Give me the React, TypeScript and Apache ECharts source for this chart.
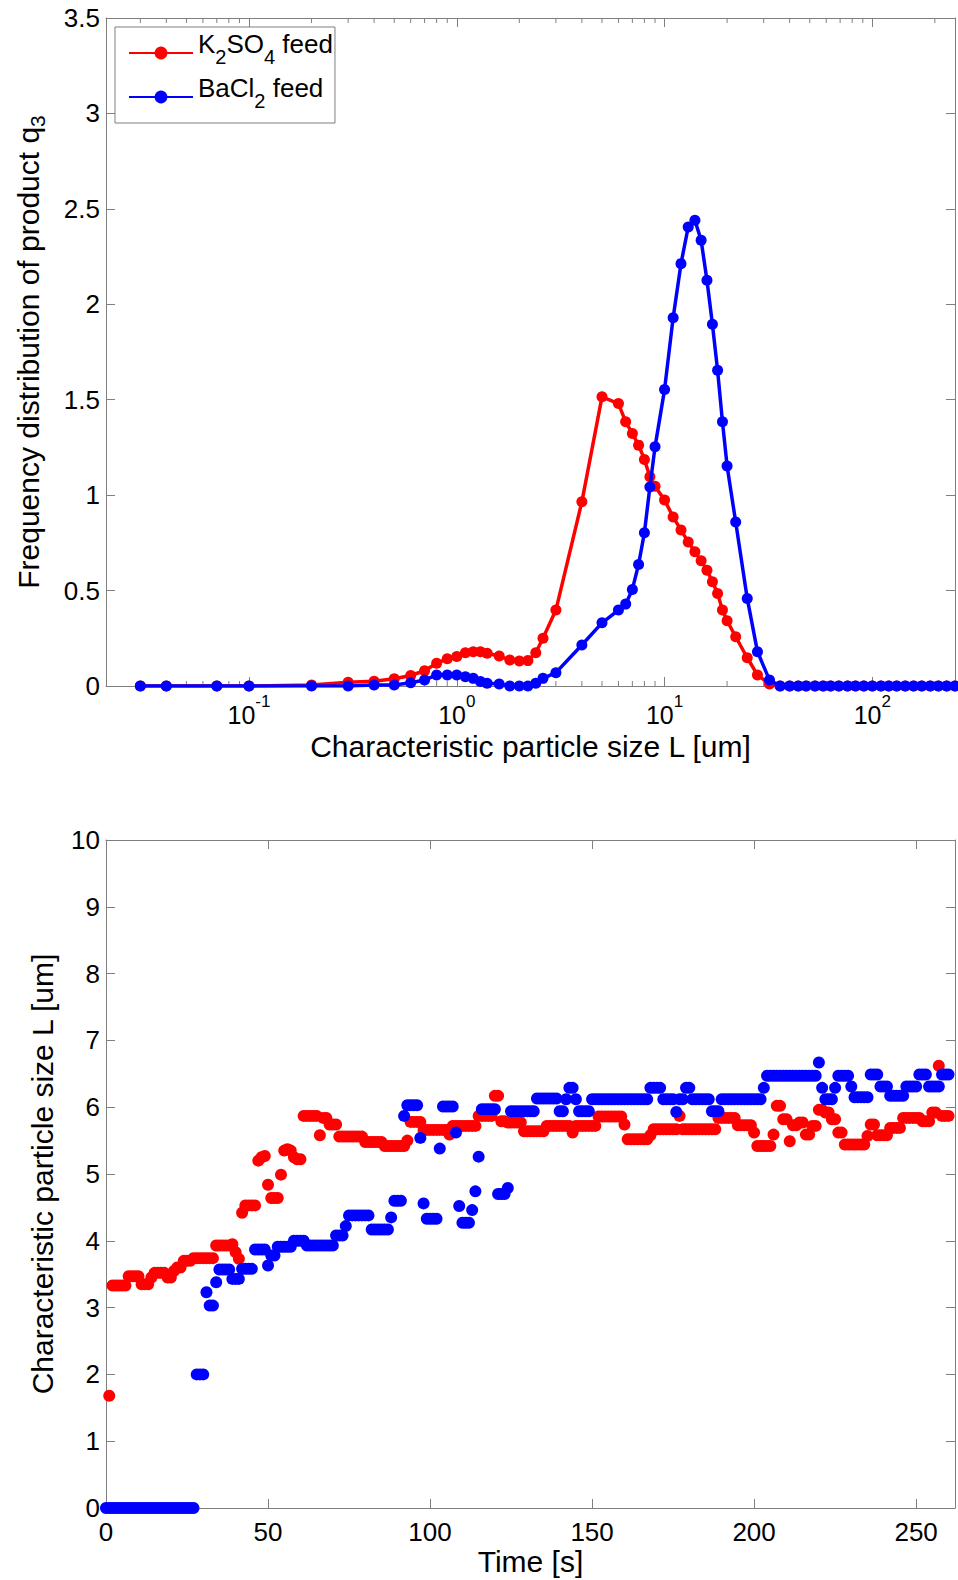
import React, { useEffect, useRef } from 'react';
import * as echarts from 'echarts';

// ---------- Top chart: frequency distribution q3 vs particle size (log x) ----------
const sizeGrid = [
  0.03, 0.04, 0.07, 0.1, 0.2, 0.3, 0.4, 0.5, 0.6, 0.7,
  0.8, 0.9, 1.0, 1.1, 1.2, 1.3, 1.4, 1.6, 1.8, 2.0,
  2.2, 2.4, 2.6, 3.0, 4.0, 5.0, 6.0, 6.5, 7.0, 7.5,
  8.0, 8.5, 9.0, 10, 11, 12, 13, 14, 15, 16,
  17, 18, 19, 20, 22, 25, 28, 32, 36, 40,
  44, 48, 53, 58, 63, 69, 76, 83, 91, 100,
  110, 120, 131, 144, 158, 173, 190, 208, 228, 250,
];

const k2so4Q3 = [
  0, 0, 0, 0, 0.005, 0.02, 0.025, 0.038, 0.055, 0.08,
  0.119, 0.143, 0.155, 0.174, 0.18, 0.18, 0.172, 0.157, 0.136, 0.131,
  0.133, 0.174, 0.25, 0.398, 0.965, 1.515, 1.48, 1.384, 1.323, 1.262,
  1.187, 1.096, 1.047, 0.974, 0.886, 0.817, 0.755, 0.703, 0.656, 0.607,
  0.546, 0.485, 0.398, 0.342, 0.258, 0.148, 0.058, 0.01, 0, 0,
  0, 0, 0, 0, 0, 0, 0, 0, 0, 0,
  0, 0, 0, 0, 0, 0, 0, 0, 0, 0,
];

const bacl2Q3 = [
  0, 0, 0, 0, 0, 0, 0.005, 0.005, 0.017, 0.031,
  0.058, 0.058, 0.058, 0.049, 0.04, 0.023, 0.014, 0.01, 0, 0,
  0, 0.014, 0.04, 0.07, 0.215, 0.331, 0.398, 0.429, 0.506, 0.637,
  0.803, 1.043, 1.253, 1.553, 1.93, 2.213, 2.405, 2.44, 2.335, 2.126,
  1.895, 1.654, 1.384, 1.153, 0.859, 0.459, 0.18, 0.031, 0, 0,
  0, 0, 0, 0, 0, 0, 0, 0, 0, 0,
  0, 0, 0, 0, 0, 0, 0, 0, 0, 0,
];

const logMinorTicks = [
  0.03, 0.04, 0.05, 0.06, 0.07, 0.08, 0.09,
  0.2, 0.3, 0.4, 0.5, 0.6, 0.7, 0.8, 0.9,
  2, 3, 4, 5, 6, 7, 8, 9,
  20, 30, 40, 50, 60, 70, 80, 90,
  200,
];

// ---------- Bottom chart: characteristic particle size vs time ----------
const k2so4StartTime = 1;
const k2so4SizeL = [
  1.68, 3.33, 3.33, 3.33, 3.33, 3.33, 3.47, 3.47, 3.47, 3.47,
  3.35, 3.35, 3.35, 3.45, 3.52, 3.52, 3.52, 3.52, 3.45, 3.45,
  3.55, 3.6, 3.6, 3.7, 3.7, 3.7, 3.74, 3.74, 3.74, 3.74,
  3.74, 3.74, 3.74, 3.93, 3.93, 3.93, 3.93, 3.93, 3.95, 3.83,
  3.73, 4.42, 4.53, 4.53, 4.53, 4.53, 5.2, 5.25, 5.27, 4.84,
  4.64, 4.64, 4.64, 4.99, 5.35, 5.37, 5.35, 5.25, 5.22, 5.22,
  5.87, 5.87, 5.87, 5.87, 5.87, 5.58, 5.84, 5.84, 5.74, 5.74,
  5.74, 5.56, 5.56, 5.56, 5.56, 5.56, 5.56, 5.56, 5.56, 5.48,
  5.48, 5.48, 5.48, 5.48, 5.48, 5.42, 5.42, 5.42, 5.42, 5.42,
  5.42, 5.42, 5.5, 5.78, 5.78, 5.78, 5.78, 5.66, 5.66, 5.66,
  5.66, 5.66, 5.66, 5.66, 5.66, 5.59, 5.72, 5.72, 5.72, 5.72,
  5.72, 5.72, 5.72, 5.72, 5.87, 5.87, 5.87, 5.87, 5.87, 6.17,
  6.17, 5.79, 5.79, 5.77, 5.77, 5.77, 5.77, 5.77, 5.64, 5.64,
  5.64, 5.64, 5.64, 5.64, 5.64, 5.72, 5.72, 5.72, 5.72, 5.72,
  5.72, 5.72, 5.72, 5.62, 5.72, 5.72, 5.72, 5.72, 5.72, 5.72,
  5.72, 5.86, 5.86, 5.86, 5.86, 5.86, 5.86, 5.86, 5.86, 5.74,
  5.52, 5.52, 5.52, 5.52, 5.52, 5.52, 5.52, 5.58, 5.67, 5.67,
  5.67, 5.67, 5.67, 5.67, 5.67, 5.67, 5.87, 5.67, 5.67, 5.67,
  5.67, 5.67, 5.67, 5.67, 5.67, 5.67, 5.67, 5.67, 5.84, 5.84,
  5.84, 5.84, 5.84, 5.84, 5.73, 5.73, 5.73, 5.73, 5.73, 5.62,
  5.42, 5.42, 5.42, 5.42, 5.42, 5.59, 6.02, 6.02, 5.82, 5.82,
  5.49, 5.73, 5.73, 5.77, 5.77, 5.59, 5.59, 5.72, 5.72, 5.96,
  5.96, 5.92, 5.92, 5.82, 5.82, 5.62, 5.62, 5.44, 5.44, 5.44,
  5.44, 5.44, 5.44, 5.44, 5.57, 5.74, 5.74, 5.58, 5.58, 5.58,
  5.58, 5.69, 5.69, 5.69, 5.69, 5.84, 5.84, 5.84, 5.84, 5.84,
  5.84, 5.79, 5.79, 5.79, 5.92, 5.92, 6.62, 5.87, 5.87, 5.87,
];

const bacl2StartTime = 0;
const bacl2SizeL = [
  0, 0, 0, 0, 0, 0, 0, 0, 0, 0,
  0, 0, 0, 0, 0, 0, 0, 0, 0, 0,
  0, 0, 0, 0, 0, 0, 0, 0, 2.0, 2.0,
  2.0, 3.23, 3.03, 3.03, 3.38, 3.57, 3.57, 3.57, 3.57, 3.43,
  3.43, 3.43, 3.58, 3.58, 3.58, 3.58, 3.87, 3.87, 3.87, 3.87,
  3.63, 3.78, 3.78, 3.91, 3.91, 3.91, 3.91, 3.91, 4.0, 4.0,
  4.0, 4.0, 3.93, 3.93, 3.93, 3.93, 3.93, 3.93, 3.93, 3.93,
  3.93, 4.08, 4.08, 4.08, 4.22, 4.38, 4.38, 4.38, 4.38, 4.38,
  4.38, 4.38, 4.17, 4.17, 4.17, 4.17, 4.17, 4.17, 4.35, 4.6,
  4.6, 4.6, 5.87, 6.03, 6.03, 6.03, 6.03, 5.54, 4.56, 4.33,
  4.33, 4.33, 4.33, 5.38, 6.01, 6.01, 6.01, 6.01, 5.62, 4.52,
  4.27, 4.27, 4.27, 4.46, 4.74, 5.26, 5.97, 5.97, 5.97, 5.97,
  5.97, 4.7, 4.7, 4.7, 4.79, 5.94, 5.94, 5.94, 5.94, 5.94,
  5.94, 5.94, 5.94, 6.13, 6.13, 6.13, 6.13, 6.13, 6.13, 6.13,
  5.94, 5.94, 6.12, 6.29, 6.29, 6.12, 5.94, 5.94, 5.94, 5.94,
  6.12, 6.12, 6.12, 6.12, 6.12, 6.12, 6.12, 6.12, 6.12, 6.12,
  6.12, 6.12, 6.12, 6.12, 6.12, 6.12, 6.12, 6.12, 6.29, 6.29,
  6.29, 6.29, 6.12, 6.12, 6.12, 6.12, 5.93, 6.12, 6.12, 6.29,
  6.29, 6.12, 6.12, 6.12, 6.12, 6.12, 6.12, 5.94, 5.94, 5.94,
  6.12, 6.12, 6.12, 6.12, 6.12, 6.12, 6.12, 6.12, 6.12, 6.12,
  6.12, 6.12, 6.12, 6.29, 6.47, 6.47, 6.47, 6.47, 6.47, 6.47,
  6.47, 6.47, 6.47, 6.47, 6.47, 6.47, 6.47, 6.47, 6.47, 6.47,
  6.67, 6.29, 6.12, 6.12, 6.12, 6.29, 6.47, 6.47, 6.47, 6.47,
  6.31, 6.15, 6.15, 6.15, 6.15, 6.15, 6.49, 6.49, 6.49, 6.31,
  6.31, 6.31, 6.17, 6.17, 6.17, 6.17, 6.17, 6.31, 6.31, 6.31,
  6.31, 6.49, 6.49, 6.49, 6.31, 6.31, 6.31, 6.31, 6.49, 6.49,
  6.49,
];

const TOP_X_MIN = 0.0205;
const TOP_X_MAX = 250;
const TOP_Y_MIN = 0;
const TOP_Y_MAX = 3.5;
const BOT_X_MAX = 262;

const FONT = "'Liberation Sans', Arial, Helvetica, sans-serif";
const GRAY = '#7f7f7f';
const RED = '#ff0000';
const BLUE = '#0000ff';

export default function App() {
  const ref = useRef<HTMLDivElement>(null);

  useEffect(() => {
    document.body.style.margin = '0';
    const chart = echarts.init(ref.current as HTMLDivElement, null, { renderer: 'svg' });

    const lineStyle = { color: GRAY, width: 1 };
    const axisLine = { show: true, onZero: false, lineStyle };
    const axisTick = { show: true, inside: true, length: 9, lineStyle };
    const tickText = { color: '#000', fontFamily: FONT, fontSize: 26 };
    const titleText = { color: '#000', fontFamily: FONT, fontSize: 30 };

    const logLabel = (v: number) => {
      const l = Math.log10(v);
      const e = Math.round(l);
      if (Math.abs(l - e) > 1e-6) return '';
      return '{b|10}{sup|' + (e < 0 ? '-' + -e : String(e)) + '}';
    };

    const option: any = {
      animation: false,
      backgroundColor: '#ffffff',
      textStyle: { fontFamily: FONT },
      grid: [
        { left: 106, top: 18, width: 850, height: 668 },
        { left: 106, top: 840, width: 850, height: 668 },
      ],
      legend: {
        data: ['K2SO4 feed', 'BaCl2 feed'],
        orient: 'vertical',
        left: 115,
        top: 27,
        padding: [4, 2, 4, 13],
        itemWidth: 64,
        itemHeight: 16,
        itemGap: 0,
        borderColor: GRAY,
        borderWidth: 1,
        backgroundColor: '#ffffff',
        formatter: (n: string) =>
          n === 'K2SO4 feed' ? '{b|K}{sub|2}{b|SO}{sub|4}{b| feed}' : '{b|BaCl}{sub|2}{b| feed}',
        textStyle: {
          color: '#000',
          fontFamily: FONT,
          fontSize: 26,
          lineHeight: 44,
          rich: {
            b: { fontSize: 26, fontFamily: FONT, color: '#000', verticalAlign: 'top' },
            sub: { fontSize: 20, fontFamily: FONT, color: '#000', verticalAlign: 'top', lineHeight: 20, padding: [16, 0, 0, 0] },
          },
        },
      },
      xAxis: [
        {
          gridIndex: 0, type: 'log', logBase: 10, min: TOP_X_MIN, max: TOP_X_MAX, position: 'bottom',
          axisLine, axisTick, splitLine: { show: false },
          axisLabel: {
            margin: 7,
            formatter: logLabel,
            ...tickText,
            rich: {
              b: { fontSize: 25, fontFamily: FONT, color: '#000', lineHeight: 34, verticalAlign: 'bottom' },
              sup: { fontSize: 17, fontFamily: FONT, color: '#000', lineHeight: 17, verticalAlign: 'top' },
            },
          },
          name: 'Characteristic particle size L [um]', nameLocation: 'middle', nameGap: 45,
          nameTextStyle: titleText,
        },
        {
          gridIndex: 0, type: 'log', logBase: 10, min: TOP_X_MIN, max: TOP_X_MAX, position: 'top',
          axisLine, axisTick, splitLine: { show: false }, axisLabel: { show: false },
        },
        {
          gridIndex: 1, type: 'value', min: 0, max: BOT_X_MAX, interval: 50, position: 'bottom',
          axisLine, axisTick, splitLine: { show: false },
          axisLabel: { margin: 11, ...tickText, formatter: (v: number) => (v % 50 === 0 ? String(v) : '') },
          name: 'Time [s]', nameLocation: 'middle', nameGap: 38, nameTextStyle: titleText,
        },
        {
          gridIndex: 1, type: 'value', min: 0, max: BOT_X_MAX, interval: 50, position: 'top',
          axisLine, axisTick, splitLine: { show: false }, axisLabel: { show: false },
        },
      ],
      yAxis: [
        {
          gridIndex: 0, type: 'value', min: TOP_Y_MIN, max: TOP_Y_MAX, interval: 0.5, position: 'left',
          axisLine, axisTick, splitLine: { show: false },
          axisLabel: { margin: 6, ...tickText },
          name: 'Frequency distribution of product q{sub|3}', nameLocation: 'middle', nameGap: 63,
          nameTextStyle: {
            ...titleText,
            rich: {
              sub: { fontSize: 21, fontFamily: FONT, color: '#000', verticalAlign: 'top', lineHeight: 21, padding: [14, 0, 0, 0] },
            },
          },
        },
        {
          gridIndex: 0, type: 'value', min: TOP_Y_MIN, max: TOP_Y_MAX, interval: 0.5, position: 'right',
          axisLine, axisTick, splitLine: { show: false }, axisLabel: { show: false },
        },
        {
          gridIndex: 1, type: 'value', min: 0, max: 10, interval: 1, position: 'left',
          axisLine, axisTick, splitLine: { show: false },
          axisLabel: { margin: 6, ...tickText },
          name: 'Characteristic particle size L [um]', nameLocation: 'middle', nameGap: 49,
          nameTextStyle: titleText,
        },
        {
          gridIndex: 1, type: 'value', min: 0, max: 10, interval: 1, position: 'right',
          axisLine, axisTick, splitLine: { show: false }, axisLabel: { show: false },
        },
      ],
      series: [
        {
          name: 'log minor ticks',
          type: 'custom',
          xAxisIndex: 0,
          yAxisIndex: 0,
          silent: true,
          z: 1,
          data: logMinorTicks.map((v) => [v, TOP_Y_MIN]),
          encode: { x: 0, y: 1 },
          renderItem: (params: any, api: any) => {
            const v = api.value(0);
            const b = api.coord([v, TOP_Y_MIN]);
            const t = api.coord([v, TOP_Y_MAX]);
            return {
              type: 'group',
              children: [
                { type: 'line', shape: { x1: b[0], y1: b[1], x2: b[0], y2: b[1] - 5 }, style: { stroke: GRAY, lineWidth: 1 } },
                { type: 'line', shape: { x1: t[0], y1: t[1], x2: t[0], y2: t[1] + 5 }, style: { stroke: GRAY, lineWidth: 1 } },
              ],
            };
          },
        },
        {
          name: 'K2SO4 feed',
          type: 'line',
          xAxisIndex: 0,
          yAxisIndex: 0,
          data: sizeGrid.map((x, i) => [x, k2so4Q3[i]]),
          symbol: 'circle',
          symbolSize: 11,
          showSymbol: true,
          showAllSymbol: true,
          lineStyle: { color: RED, width: 3.5 },
          itemStyle: { color: RED },
          z: 3,
        },
        {
          name: 'BaCl2 feed',
          type: 'line',
          xAxisIndex: 0,
          yAxisIndex: 0,
          data: sizeGrid.map((x, i) => [x, bacl2Q3[i]]),
          symbol: 'circle',
          symbolSize: 11,
          showSymbol: true,
          showAllSymbol: true,
          lineStyle: { color: BLUE, width: 3.5 },
          itemStyle: { color: BLUE },
          z: 4,
        },
        {
          name: 'K2SO4 feed L(t)',
          type: 'scatter',
          xAxisIndex: 2,
          yAxisIndex: 2,
          data: k2so4SizeL.map((v, i) => [k2so4StartTime + i, v]),
          symbol: 'circle',
          symbolSize: 12,
          itemStyle: { color: RED, opacity: 1 },
          z: 3,
        },
        {
          name: 'BaCl2 feed L(t)',
          type: 'scatter',
          xAxisIndex: 2,
          yAxisIndex: 2,
          data: bacl2SizeL.map((v, i) => [bacl2StartTime + i, v]),
          symbol: 'circle',
          symbolSize: 12,
          itemStyle: { color: BLUE, opacity: 1 },
          z: 4,
        },
      ],
    };

    chart.setOption(option);
    return () => chart.dispose();
  }, []);

  return <div ref={ref} style={{ width: 958, height: 1580 }} />;
}
